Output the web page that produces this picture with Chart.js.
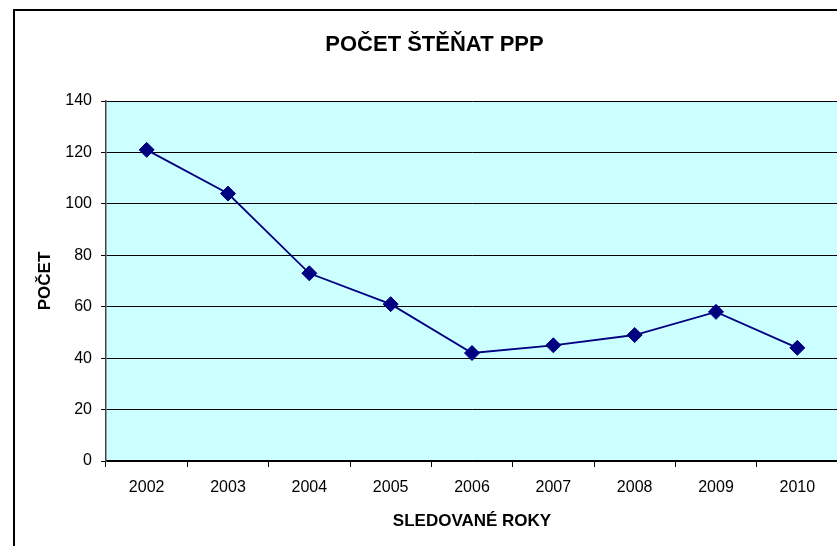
<!DOCTYPE html>
<html lang="cs">
<head>
  <meta charset="UTF-8">
  <title>Počet štěňat PPP</title>
  <script src="https://cdn.jsdelivr.net/npm/chart.js"></script>
  <style>
    html, body { margin: 0; padding: 0; overflow: hidden; background: #fff; }
    #wrap { position: absolute; left: 0; top: 0; width: 869px; height: 600px; }
    #frame {
      position: absolute; left: 13px; top: 9px; width: 900px; height: 700px;
      border: 2px solid #000; pointer-events: none;
    }
  </style>
</head>
<body>
  <div id="wrap">
    <canvas id="chart" width="869" height="600"></canvas>
  </div>
  <div id="frame"></div>
  <script>
    const years = ['2002', '2003', '2004', '2005', '2006', '2007', '2008', '2009', '2010'];
    const counts = [121, 104, 73, 61, 42, 45, 49, 58, 44];
    const yTicks = [0, 20, 40, 60, 80, 100, 120, 140];

    // light cyan plot area like the old Excel chart
    const plotBackground = {
      id: 'plotBackground',
      beforeDraw(chart) {
        const { ctx, chartArea: a } = chart;
        ctx.save();
        ctx.fillStyle = '#CCFFFF';
        ctx.fillRect(a.left, a.top, a.right - a.left, a.bottom - a.top);
        ctx.restore();
      }
    };

    new Chart(document.getElementById('chart'), {
      type: 'line',
      data: {
        labels: years,
        datasets: [{
          label: 'Počet',
          data: counts,
          borderColor: '#000080',
          borderWidth: 1.8,
          backgroundColor: '#000080',
          pointStyle: 'rectRot',
          pointRadius: 7.5,
          pointBorderWidth: 1,
          pointBorderColor: '#000080',
          tension: 0
        }]
      },
      options: {
        responsive: false,
        animation: false,
        events: [],
        // left padding keeps the title centred on the frame, not the canvas
        layout: { padding: { left: 31, right: 31, top: 0, bottom: 0 } },
        plugins: {
          legend: { display: false },
          tooltip: { enabled: false },
          title: {
            display: true,
            text: 'POČET ŠTĚŇAT PPP',
            color: '#000',
            font: { family: 'Arial, "Liberation Sans", sans-serif', size: 22, weight: 'bold' },
            padding: { top: 32, bottom: 42.6 }
          }
        },
        scales: {
          x: {
            offset: true,
            grid: { offset: true, drawOnChartArea: false, drawTicks: true, tickLength: 6, color: '#000' },
            border: { color: '#000', width: 1.5 },
            ticks: {
              color: '#000', padding: 11,
              font: { family: 'Arial, "Liberation Sans", sans-serif', size: 16 }
            },
            title: {
              display: true,
              text: 'SLEDOVANÉ ROKY',
              color: '#000',
              font: { family: 'Arial, "Liberation Sans", sans-serif', size: 17, weight: 'bold' },
              padding: { top: 0, bottom: 68 }
            },
            afterFit(scale) { scale.height = 139; }
          },
          y: {
            min: 0,
            max: 140,
            afterBuildTicks(scale) { scale.ticks = yTicks.map(v => ({ value: v })); },
            grid: { color: '#000', lineWidth: 1, drawTicks: true, tickLength: 5 },
            border: { color: '#444', width: 1.5 },
            ticks: {
              color: '#000', padding: 9,
              font: { family: 'Arial, "Liberation Sans", sans-serif', size: 16 }
            },
            title: {
              display: true,
              text: 'POČET',
              color: '#000',
              font: { family: 'Arial, "Liberation Sans", sans-serif', size: 17, weight: 'bold' },
              padding: { top: 4, bottom: 0 }
            },
            afterFit(scale) { scale.width = 75; }
          }
        }
      },
      plugins: [plotBackground]
    });
  </script>
</body>
</html>
